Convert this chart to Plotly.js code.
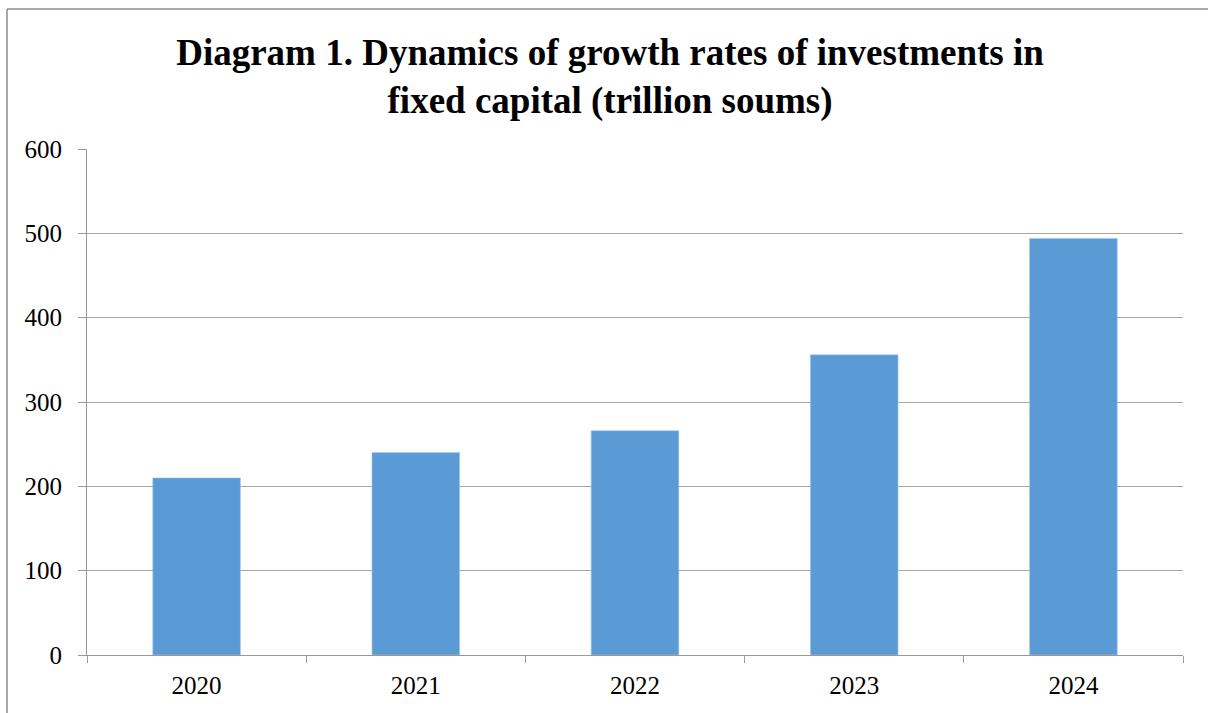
<!DOCTYPE html>
<html>
<head>
<meta charset="utf-8">
<script src="https://cdn.plot.ly/plotly-3.0.1.min.js"></script>
<style>html,body{margin:0;padding:0;background:#fff;}#chart{width:1208px;height:713px;}</style>
</head>
<body>
<div id="chart"></div>
<script>
const years = ["2020", "2021", "2022", "2023", "2024"];
const investments = [210, 240, 266, 356, 494];
const yTicks = [0, 100, 200, 300, 400, 500, 600];

const L = 87, R = 25, T = 149, B = 58, W = 1208, H = 713;
const pw = W - L - R, ph = H - T - B;
const px = v => (v - L) / pw;
const py = v => (H - B - v) / ph;

const trace = {
  type: "bar",
  x: years,
  y: investments,
  marker: {color: "#5B9BD5", line: {color: "#a9c8ea", width: 0.6}},
  hoverinfo: "x+y"
};

const layout = {
  width: W, height: H,
  margin: {l: L, r: R, t: T, b: B, pad: 0},
  paper_bgcolor: "#ffffff",
  plot_bgcolor: "#ffffff",
  showlegend: false,
  bargap: 0.6,
  title: {
    text: "<b>Diagram 1. Dynamics of growth rates of investments in<br>fixed capital (trillion soums)</b>",
    font: {family: "Liberation Serif, Times New Roman, serif", size: 37, color: "#000"},
    x: 0.505, xanchor: "center",
    y: 0.909, yanchor: "middle"
  },
  xaxis: {
    type: "category",
    showline: true, linecolor: "#999", linewidth: 1,
    ticks: "outside", tickson: "boundaries", ticklen: 7, tickcolor: "#999",
    showgrid: false,
    tickfont: {family: "Liberation Serif, Times New Roman, serif", size: 25, color: "#000"},
    ticklabelstandoff: 8
  },
  yaxis: {
    range: [0, 600],
    tickvals: yTicks,
    ticktext: yTicks.map(String),
    showline: true, linecolor: "#999", linewidth: 1,
    ticks: "outside", ticklen: 8, tickcolor: "#999",
    showgrid: true, gridcolor: "#a6a6a6", gridwidth: 1,
    zeroline: false,
    tickfont: {family: "Liberation Serif, Times New Roman, serif", size: 25, color: "#000"},
    ticklabelstandoff: 11
  },
  shapes: [
    {type: "line", xref: "paper", yref: "paper", x0: px(7), x1: px(1215), y0: py(9), y1: py(9), line: {color: "#8c8c8c", width: 1.5}},
    {type: "line", xref: "paper", yref: "paper", x0: px(7), x1: px(7), y0: py(9), y1: py(720), line: {color: "#8c8c8c", width: 1.5}}
  ]
};

Plotly.newPlot("chart", [trace], layout, {displayModeBar: false, staticPlot: true});
</script>
</body>
</html>
